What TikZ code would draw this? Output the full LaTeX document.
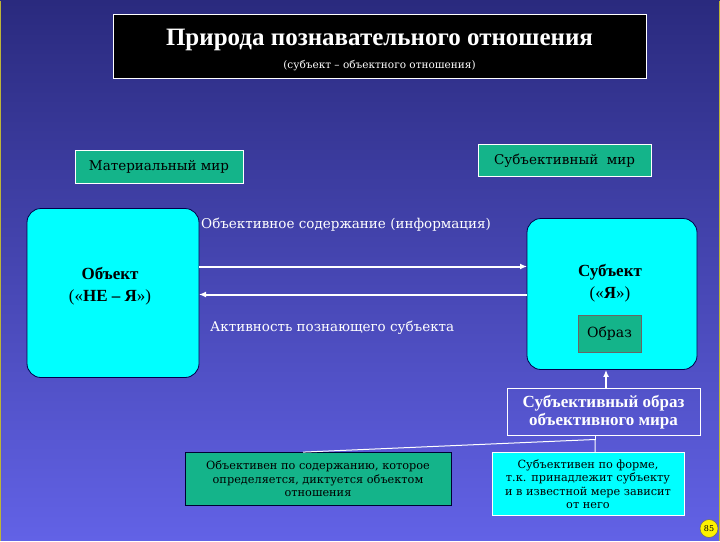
\documentclass[tikz,border=0pt]{standalone}
\usepackage{fontspec}
\setmainfont{DejaVu Serif}
\newfontfamily\tms{DejaVu Serif}
\newfontfamily\tmb{Liberation Serif}
\usetikzlibrary{arrows.meta}
\definecolor{bgtop}{HTML}{2A2A7E}
\definecolor{bgbot}{HTML}{6262E6}
\definecolor{grn}{HTML}{14B48A}
\definecolor{cyn}{HTML}{00FFFF}
\begin{document}
\begin{tikzpicture}[x=1pt,y=-1pt,
  wt/.style={text=white},
  grnbox/.style={fill=grn,draw=white,line width=0.8pt,inner sep=0pt},
  cynbox/.style={fill=cyn,draw=black!70!blue,rounded corners=14pt,line width=0.8pt,inner sep=0pt},
  arr/.style={draw=white,line width=2pt,-{Latex[length=7pt,width=6pt]}}]
\shade[top color=bgtop,bottom color=bgbot] (0,0) rectangle (720,540);
\draw[yellow!70!black,line width=1pt] (0.5,0)--(0.5,540) (719.5,0)--(719.5,540);
% title
\node[fill=black,draw=white,line width=0.8pt,minimum width=533pt,minimum height=64pt] (title) at (379.5,46) {};
\node[wt,font=\tmb\bfseries\fontsize{25}{28}\selectfont] (t1) at (379.5,39) {Природа познавательного отношения};
\node[wt,font=\tms\fontsize{10.5}{12}\selectfont] (t2) at (379.5,65) {(субъект – объектного отношения)};
% worlds
\node[grnbox,minimum width=168pt,minimum height=33pt,font=\tms\fontsize{13.5}{16}\selectfont] (mat) at (159,166.5) {Материальный мир};
\node[grnbox,minimum width=173pt,minimum height=32pt,font=\tms\fontsize{13.5}{16}\selectfont] (subw) at (564.5,160) {Субъективный\ \ мир};
% object / subject
\node[cynbox,minimum width=172pt,minimum height=169pt] (obj) at (113,292.5) {};
\node[font=\tmb\bfseries\fontsize{17}{20}\selectfont,align=center] (objt) at (110,286) {Объект\\[2pt]\mdseries(«\bfseries НЕ – Я\mdseries»)};
\node[cynbox,minimum width=170pt,minimum height=151pt] (sub) at (612,293.5) {};
\node[font=\tmb\bfseries\fontsize{17}{20}\selectfont,align=center] (subt) at (610,283) {Субъект\\[2pt]\mdseries(«\bfseries Я\mdseries»)};
\node[fill=grn,draw=black!60,line width=0.6pt,minimum width=63pt,minimum height=37pt,inner sep=0pt,font=\tms\fontsize{14}{16}\selectfont] (obr) at (609.5,333.5) {Образ};
% arrows
\coordinate (a1s) at (199,266); \coordinate (a1e) at (527,266);
\coordinate (a2s) at (527,294); \coordinate (a2e) at (199,294);
\draw[arr] (a1s)--(a1e);
\draw[arr] (a2s)--(a2e);
\node[wt,font=\tms\fontsize{13.5}{16}\selectfont,anchor=west,inner sep=0pt] (info) at (201,224) {Объективное содержание (информация)};
\node[wt,font=\tms\fontsize{13.5}{16}\selectfont,anchor=west,inner sep=0pt] (akt) at (210,327) {Активность познающего субъекта};
% subjective image
\node[draw=white,line width=0.8pt,minimum width=193pt,minimum height=47pt,inner sep=0pt,wt,align=center,font=\tmb\bfseries\fontsize{17}{18}\selectfont] (img) at (603.5,411.5) {Субъективный образ\\объективного мира};
\draw[arr] (img.north -| 606,0) -- (sub.south -| 606,0);
% bottom boxes
\node[fill=grn,draw=black!80!blue,line width=0.8pt,minimum width=266pt,minimum height=53pt,inner sep=0pt,align=center,font=\tms\fontsize{11.3}{13.5}\selectfont] (ob) at (318,478.5) {Объективен по содержанию, которое\\определяется, диктуется объектом\\отношения};
\node[fill=cyn,draw=white,line width=0.8pt,minimum width=192pt,minimum height=63pt,inner sep=0pt,align=center,font=\tms\fontsize{11.3}{13.5}\selectfont] (sb) at (588,483.5) {Субъективен по форме,\\т.к. принадлежит субъекту\\и в известной мере зависит\\от него};
\coordinate (j) at (595,439);
\draw[white,line width=1pt] (ob.north -| 303,0) -- (j) -- (sb.north -| 595,0);
\draw[white,line width=1pt] (j) -- (img.south -| 595,0);
% page number
\node[circle,fill=yellow,draw=black!60,line width=0.5pt,minimum size=18pt,inner sep=0pt,font=\tms\fontsize{8}{10}\selectfont] (pg) at (709,528) {85};
\end{tikzpicture}
\end{document}
